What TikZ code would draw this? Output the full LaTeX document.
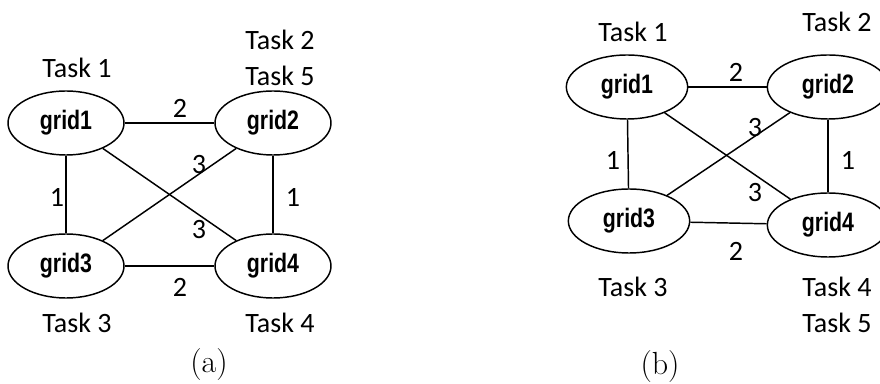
\documentclass[tikz,border=0pt]{standalone}
\usepackage{fontspec}
\newfontfamily\taskfont{Carlito}
\newfontfamily\gridfont{Liberation Sans}
\usetikzlibrary{shapes.geometric}
\newcommand{\gname}[1]{\scalebox{0.8}[1]{#1}}
\tikzset{%
	gridnode/.style = {draw, ellipse, line width=1.1pt, minimum width=87pt, minimum height=48pt, inner sep=0pt, font=\gridfont\bfseries\fontsize{20}{24}\selectfont},
	task/.style     = {inner sep=0pt, font=\taskfont\fontsize{21}{24}\selectfont},
	cost/.style     = {inner sep=0pt, font=\taskfont\fontsize{21}{24}\selectfont},
	caption/.style  = {inner sep=0pt, font=\fontsize{24}{28}\selectfont},
	link/.style     = {line width=1.1pt},
}
\begin{document}
\begin{tikzpicture}[x=0.75pt,y=-0.75pt]
		\useasboundingbox (0,0) rectangle (880,384);
		% (a)
		\node[gridnode] (a1) at (66,123) {\gname{grid1}};
		\node[gridnode] (a2) at (273,123) {\gname{grid2}};
		\node[gridnode] (a3) at (66,266) {\gname{grid3}};
		\node[gridnode] (a4) at (273,266) {\gname{grid4}};
		\draw[link] (a1) -- (a2);
		\draw[link] (a1) -- (a3);
		\draw[link] (a2) -- (a4);
		\draw[link] (a3) -- (a4);
		\draw[link] (a1) -- (a4);
		\draw[link] (a2) -- (a3);
		\node[cost] (a12) at (180,108) {2};
		\node[cost] (a13) at (57,197) {1};
		\node[cost] (a24) at (293,197) {1};
		\node[cost] (a23) at (199,165) {3};
		\node[cost] (a14) at (199,230) {3};
		\node[cost] (a34) at (180,287) {2};
		\node[task] (at1) at (77,68) {Task 1};
		\node[task] (at2) at (280,40) {Task 2};
		\node[task] (at5) at (280,76) {Task 5};
		\node[task] (at3) at (77,323) {Task 3};
		\node[task] (at4) at (280,323) {Task 4};
		\node[caption] (capa) at (209,365) {(a)};
		
		% (b)
		\node[gridnode, minimum width=91pt] (b1) at (627,87) {\gname{grid1}};
		\node[gridnode, minimum width=91pt] (b2) at (828,87) {\gname{grid2}};
		\node[gridnode, minimum width=91pt] (b3) at (629,221) {\gname{grid3}};
		\node[gridnode, minimum width=91pt] (b4) at (828,225) {\gname{grid4}};
		\draw[link] (b1) -- (b2);
		\draw[link] (b1) -- (b3);
		\draw[link] (b2) -- (b4);
		\draw[link] (b3) -- (b4);
		\draw[link] (b1) -- (b4);
		\draw[link] (b2) -- (b3);
		\node[cost] (b12) at (736,72) {2};
		\node[cost] (b13) at (613,160) {1};
		\node[cost] (b24) at (848,160) {1};
		\node[cost] (b23) at (755,128) {3};
		\node[cost] (b14) at (755,193) {3};
		\node[cost] (b34) at (736,251) {2};
		\node[task] (bt1) at (633,32) {Task 1};
		\node[task] (bt2) at (837,22) {Task 2};
		\node[task] (bt3) at (633,287) {Task 3};
		\node[task] (bt4) at (837,287) {Task 4};
		\node[task] (bt5) at (837,323) {Task 5};
		\node[caption] (capb) at (660,367) {(b)};
\end{tikzpicture}
\end{document}
